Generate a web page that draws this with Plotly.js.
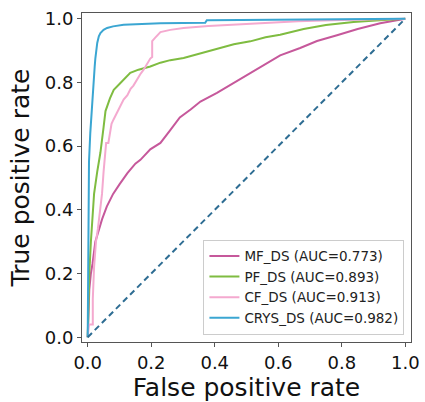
<!DOCTYPE html>
<html>
<head>
<meta charset="utf-8">
<script src="https://cdn.plot.ly/plotly-3.0.1.min.js"></script>
<style>html,body{margin:0;padding:0;background:#fff}#chart{width:425px;height:402px}</style>
</head>
<body>
<div id="chart"></div>
<script>
// Series names
const seriesNames = ["MF_DS (AUC=0.773)", "PF_DS (AUC=0.893)", "CF_DS (AUC=0.913)", "CRYS_DS (AUC=0.982)"];

// MF_DS ROC
const mfFpr = [0,0.002,0.005,0.01,0.015,0.024,0.035,0.045,0.06,0.08,0.1,0.125,0.15,0.166,0.197,0.229,0.26,0.29,0.324,0.355,0.407,0.46,0.523,0.575,0.606,0.669,0.722,0.785,0.85,0.921,0.96,1];
const mfTpr = [0,0.08,0.15,0.2,0.23,0.3,0.338,0.37,0.41,0.45,0.48,0.515,0.545,0.557,0.59,0.61,0.65,0.69,0.715,0.74,0.767,0.798,0.835,0.866,0.885,0.908,0.93,0.948,0.968,0.986,0.993,1];

// PF_DS ROC
const pfFpr = [0,0.002,0.005,0.01,0.014,0.02,0.03,0.04,0.05,0.056,0.07,0.082,0.1,0.113,0.134,0.16,0.197,0.229,0.26,0.302,0.35,0.407,0.46,0.512,0.56,0.606,0.68,0.75,0.837,0.92,1];
const pfTpr = [0,0.1,0.2,0.3,0.37,0.45,0.52,0.58,0.66,0.71,0.75,0.777,0.795,0.808,0.83,0.84,0.85,0.862,0.87,0.877,0.89,0.906,0.92,0.929,0.942,0.95,0.968,0.98,0.99,0.995,1];

// CF_DS ROC
const cfFpr = [0,0.004,0.016,0.016,0.02,0.026,0.032,0.04,0.045,0.05,0.056,0.058,0.065,0.07,0.075,0.081,0.09,0.1,0.113,0.125,0.135,0.144,0.155,0.165,0.176,0.185,0.197,0.203,0.203,0.212,0.22,0.229,0.26,0.302,0.38,0.459,0.606,0.663,0.8,1];
const cfTpr = [0,0.04,0.04,0.12,0.22,0.3,0.34,0.4,0.45,0.52,0.59,0.61,0.61,0.64,0.67,0.683,0.7,0.72,0.746,0.76,0.78,0.79,0.81,0.825,0.84,0.855,0.875,0.88,0.93,0.94,0.948,0.958,0.965,0.971,0.977,0.981,0.99,0.992,0.996,1];

// CRYS_DS ROC
const crFpr = [0,0.001,0.002,0.004,0.008,0.014,0.019,0.022,0.024,0.027,0.03,0.035,0.04,0.05,0.061,0.08,0.113,0.229,0.37,0.375,0.6,0.9,1];
const crTpr = [0,0.2,0.4,0.55,0.64,0.746,0.81,0.85,0.875,0.9,0.924,0.945,0.955,0.965,0.971,0.976,0.981,0.986,0.987,0.995,0.996,0.998,1];

// Chance diagonal
const diagX = [0, 1];
const diagY = [0, 1];

const xTicks = [0, 0.2, 0.4, 0.6, 0.8, 1.0];
const xTickText = ["0.0", "0.2", "0.4", "0.6", "0.8", "1.0"];
const yTicks = [0, 0.2, 0.4, 0.6, 0.8, 1.0];
const yTickText = ["0.0", "0.2", "0.4", "0.6", "0.8", "1.0"];

const colors = ["#c6589b", "#7fbc41", "#f4a9cf", "#3ba6d2"];

const traces = [
  {x: mfFpr, y: mfTpr, name: seriesNames[0], mode: "lines", line: {color: colors[0], width: 2}},
  {x: pfFpr, y: pfTpr, name: seriesNames[1], mode: "lines", line: {color: colors[1], width: 2}},
  {x: cfFpr, y: cfTpr, name: seriesNames[2], mode: "lines", line: {color: colors[2], width: 2}},
  {x: crFpr, y: crTpr, name: seriesNames[3], mode: "lines", line: {color: colors[3], width: 2}},
  {x: diagX, y: diagY, mode: "lines", showlegend: false, line: {color: "#2e6d93", width: 2, dash: "6px,4px"}}
];

const axisCommon = {
  showgrid: false, zeroline: false, showline: true, mirror: true,
  linecolor: "#555", linewidth: 1, ticks: "outside", ticklen: 4, tickcolor: "#555",
  tickfont: {family: "DejaVu Sans", size: 18, color: "#111"}
};

const layout = {
  width: 425, height: 402,
  margin: {l: 82, r: 14, t: 13, b: 60},
  paper_bgcolor: "#fff", plot_bgcolor: "#fff",
  font: {family: "DejaVu Sans", color: "#111"},
  xaxis: Object.assign({}, axisCommon, {
    range: [-0.018, 1.018], tickvals: xTicks, ticktext: xTickText,
    title: {text: "False positive rate", font: {family: "DejaVu Sans", size: 25, color: "#111"}, standoff: 4}
  }),
  yaxis: Object.assign({}, axisCommon, {
    range: [-0.015, 1.018], tickvals: yTicks, ticktext: yTickText,
    title: {text: "True positive rate", font: {family: "DejaVu Sans", size: 25, color: "#111"}, standoff: 8}
  }),
  legend: {
    x: 0.98, y: 0.022, xanchor: "right", yanchor: "bottom",
    bgcolor: "#fff", bordercolor: "#ccc", borderwidth: 1,
    font: {family: "DejaVu Sans", size: 13.5, color: "#222"},
    tracegroupgap: 0
  },
  showlegend: true
};

Plotly.newPlot("chart", traces, layout, {staticPlot: true, displayModeBar: false});
</script>
</body>
</html>
